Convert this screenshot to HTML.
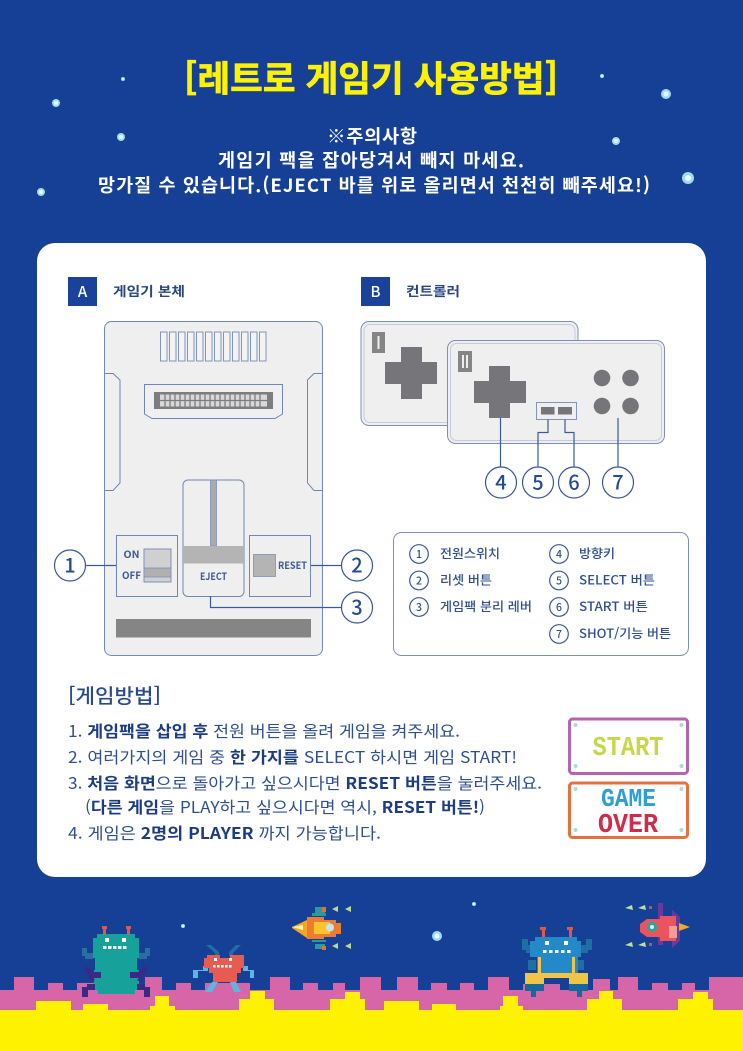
<!DOCTYPE html>
<html lang="ko"><head><meta charset="utf-8"><style>
html,body{margin:0;padding:0;background:#163f96}
svg{display:block}
text{font-family:"Noto Sans CJK KR","Liberation Sans",sans-serif}
.w{fill:#fff;font-weight:700;font-size:18.5px}
.s{stroke:#6f86b8;stroke-width:1;fill:none}
.t{fill:#2f4f90;font-size:16px}
.t tspan.b{font-weight:700;fill:#1d3d82}
.lg{fill:#2f4f90;font-size:12.5px;font-weight:500}
.c{fill:#fff;stroke:#3b5797;stroke-width:1.2}
.n{fill:#234a94;font-size:20px;font-weight:500;text-anchor:middle}
.n2{fill:#2f4f90;font-size:10.5px;font-weight:500;text-anchor:middle}
.l{stroke:#3b5a9c;stroke-width:1.2;fill:none}
.m{fill:#3d5a98;font-size:10px;font-weight:700}
.p{font-family:"Liberation Mono",monospace;font-weight:700;text-anchor:middle}
</style></head><body>
<svg width="743" height="1051" viewBox="0 0 743 1051" xmlns="http://www.w3.org/2000/svg">
<rect width="743" height="1051" fill="#163f96"/>
<!-- stars -->
<g fill="#9fdcec">
<circle cx="123" cy="79" r="2"/><circle cx="56" cy="103" r="4"/><circle cx="121" cy="137" r="4"/><circle cx="41" cy="192" r="4"/>
<circle cx="602" cy="76" r="2"/><circle cx="666" cy="94" r="5"/><circle cx="616" cy="141" r="4"/><circle cx="688" cy="178" r="6"/>
<circle cx="183" cy="926" r="2"/><circle cx="474" cy="904" r="2"/><circle cx="437" cy="936" r="5"/>
</g>
<g fill="#eefbff">
<circle cx="123" cy="79" r="1"/><circle cx="56" cy="103" r="2"/><circle cx="121" cy="137" r="2"/><circle cx="41" cy="192" r="2"/>
<circle cx="602" cy="76" r="1"/><circle cx="666" cy="94" r="2.500"/><circle cx="616" cy="141" r="2"/><circle cx="688" cy="178" r="3"/>
<circle cx="183" cy="926" r="1"/><circle cx="474" cy="904" r="1"/><circle cx="437" cy="936" r="2.500"/>
</g>
<text x="184" y="91" fill="#fff200" stroke="#fff200" stroke-width=".7" font-size="35.5" font-weight="700" textLength="374" lengthAdjust="spacing">[레트로 게임기 사용방법]</text>
<text class="w" x="327" y="143" textLength="90" lengthAdjust="spacing">※주의사항</text>
<text class="w" x="218" y="167" textLength="306" lengthAdjust="spacing">게임기 팩을 잡아당겨서 빼지 마세요.</text>
<text class="w" x="98" y="192" textLength="552" lengthAdjust="spacing">망가질 수 있습니다.(EJECT 바를 위로 올리면서 천천히 빼주세요!)</text>

<!-- card -->
<rect x="37" y="243" width="669" height="634" rx="18" fill="#fff"/>
<rect x="68" y="277" width="29" height="29" fill="#1a429b"/>
<text x="82.500" y="297" text-anchor="middle" fill="#fff" font-size="15" font-weight="500">A</text>
<text x="113" y="296" fill="#2a4685" font-size="13" font-weight="700" textLength="72" lengthAdjust="spacingAndGlyphs">게임기 본체</text>
<rect x="361" y="277" width="29" height="29" fill="#1a429b"/>
<text x="375.500" y="297" text-anchor="middle" fill="#fff" font-size="15" font-weight="500">B</text>
<text x="406" y="296" fill="#2a4685" font-size="13" font-weight="700" textLength="54" lengthAdjust="spacingAndGlyphs">컨트롤러</text>

<!-- console -->
<rect x="104.500" y="321.500" width="218" height="334" rx="7" fill="#efefef" stroke="#7188b8"/>
<g fill="#f3f3f3" stroke="#8094bf" stroke-width="1">
<rect x="160.500" y="332" width="6.500" height="29"/><rect x="169.500" y="332" width="6.500" height="29"/><rect x="178.500" y="332" width="6.500" height="29"/><rect x="187.500" y="332" width="6.500" height="29"/><rect x="196.500" y="332" width="6.500" height="29"/><rect x="205.500" y="332" width="6.500" height="29"/><rect x="214.500" y="332" width="6.500" height="29"/><rect x="223.500" y="332" width="6.500" height="29"/><rect x="232.500" y="332" width="6.500" height="29"/><rect x="241.500" y="332" width="6.500" height="29"/><rect x="250.500" y="332" width="6.500" height="29"/><rect x="259.500" y="332" width="6.500" height="29"/>
</g>
<path class="s" d="M144.500 384.500H282.500V414L275 418.500H152L144.500 414Z"/>
<rect x="154" y="392" width="119" height="17" fill="#7d7d80"/>
<rect x="160" y="394.500" width="107" height="12" fill="#d8d8d8"/>
<g stroke="#7d7d80" stroke-width="1.300">
<path d="M165 394V407M170 394V407M175 394V407M180 394V407M185 394V407M190 394V407M195 394V407M200 394V407M205 394V407M210 394V407M215 394V407M220 394V407M225 394V407M230 394V407M235 394V407M240 394V407M245 394V407M250 394V407M255 394V407M260 394V407M160 400.500H267"/>
</g>
<path class="s" d="M104 373.500H113L120 380V483L113 490.500H104"/>
<path class="s" d="M322 373.500H314L307.500 380V483L314 490.500H322"/>

<rect x="116.500" y="535.500" width="61" height="61" class="s"/>
<text class="m" x="123.500" y="558" textLength="16" lengthAdjust="spacingAndGlyphs">ON</text><text class="m" x="122" y="579" textLength="19" lengthAdjust="spacingAndGlyphs">OFF</text>
<rect x="144" y="549" width="27" height="33" fill="#d0d0d0" stroke="#7c90bb"/>
<rect x="144" y="568" width="27" height="9" fill="#b0b0b0" stroke="#7c90bb" stroke-width=".8"/>

<rect x="183" y="480" width="61" height="116.500" rx="5" class="s"/>
<rect x="210.500" y="480" width="6" height="66" fill="#aaa" stroke="#7c90bb" stroke-width=".8"/>
<rect x="183" y="546" width="61" height="17.500" fill="#b4b4b4"/>
<text class="m" x="200" y="580" textLength="27" lengthAdjust="spacingAndGlyphs">EJECT</text>

<rect x="249.500" y="535.500" width="61" height="61" class="s"/>
<rect x="253.500" y="554.500" width="22" height="22" fill="#b4b4b4" stroke="#7c90bb" stroke-width=".8"/>
<text class="m" x="278" y="569" textLength="29" lengthAdjust="spacingAndGlyphs">RESET</text>
<rect x="116" y="619" width="195" height="18.500" fill="#858585"/>

<path class="l" d="M85 565.500H116M311 565.500H342M210.500 596V607.500H342"/>
<circle class="c" cx="70" cy="565.500" r="15.500"/><text class="n" x="70" y="572.500">1</text>
<circle class="c" cx="357" cy="565.500" r="15.500"/><text class="n" x="357" y="572.500">2</text>
<circle class="c" cx="357" cy="607.500" r="15.500"/><text class="n" x="357" y="614.500">3</text>

<!-- controllers -->
<rect x="361" y="321.500" width="217" height="104" rx="8" fill="#efefef" stroke="#7c90bb"/>
<rect x="364" y="324.500" width="211" height="98" rx="6" fill="none" stroke="#c3cbde"/>
<rect x="372" y="332" width="13" height="21" fill="#858585"/>
<rect x="377.500" y="336" width="2" height="13" fill="#eee"/>
<path fill="#76767a" d="M401 347H422V362H437V384H422V399H401V384H385V362H401Z"/>
<rect x="447.500" y="340.500" width="217" height="103" rx="8" fill="#efefef" stroke="#7c90bb"/>
<rect x="450.500" y="343.500" width="211" height="97" rx="6" fill="none" stroke="#c3cbde"/>
<rect x="458" y="351" width="14" height="21" fill="#858585"/>
<rect x="462" y="355" width="2" height="13" fill="#eee"/><rect x="466" y="355" width="2" height="13" fill="#eee"/>
<path fill="#76767a" d="M489 366H510V381H526V403H510V418H489V403H474V381H489Z"/>
<rect x="536.500" y="402.500" width="40" height="17" fill="none" stroke="#8094bf"/>
<rect x="541" y="407" width="13.500" height="7.500" fill="#76767a"/><rect x="558" y="407" width="14" height="7.500" fill="#76767a"/>
<g fill="#76767a"><circle cx="602" cy="378" r="8.300"/><circle cx="630.500" cy="378" r="8.300"/><circle cx="602" cy="406" r="8.300"/><circle cx="630.500" cy="406" r="8.300"/></g>
<path class="l" d="M500.500 418V467M548 419.500V432.500H538V467M565 419.500V432.500H574V467M618 418V467"/>
<circle class="c" cx="501" cy="482.500" r="15.500"/><text class="n" x="501" y="489.500">4</text>
<circle class="c" cx="538" cy="482.500" r="15.500"/><text class="n" x="538" y="489.500">5</text>
<circle class="c" cx="574" cy="482.500" r="15.500"/><text class="n" x="574" y="489.500">6</text>
<circle class="c" cx="618" cy="482.500" r="15.500"/><text class="n" x="618" y="489.500">7</text>

<!-- legend -->
<rect x="393.500" y="532.500" width="295" height="123" rx="8" fill="#fff" stroke="#7c90bb"/>
<circle class="c" cx="419" cy="554" r="9.300"/><text class="n2" x="419" y="558">1</text>
<circle class="c" cx="419" cy="580.500" r="9.300"/><text class="n2" x="419" y="584.500">2</text>
<circle class="c" cx="419" cy="607" r="9.300"/><text class="n2" x="419" y="611">3</text>
<circle class="c" cx="559" cy="554" r="9.300"/><text class="n2" x="559" y="558">4</text>
<circle class="c" cx="559" cy="580.500" r="9.300"/><text class="n2" x="559" y="584.500">5</text>
<circle class="c" cx="559" cy="607" r="9.300"/><text class="n2" x="559" y="611">6</text>
<circle class="c" cx="559" cy="634" r="9.300"/><text class="n2" x="559" y="638">7</text>
<text class="lg" x="440" y="558" textLength="60" lengthAdjust="spacingAndGlyphs">전원스위치</text>
<text class="lg" x="440" y="584.500" textLength="52" lengthAdjust="spacingAndGlyphs">리셋 버튼</text>
<text class="lg" x="440" y="611" textLength="92" lengthAdjust="spacingAndGlyphs">게임팩 분리 레버</text>
<text class="lg" x="579" y="558" textLength="36" lengthAdjust="spacingAndGlyphs">방향키</text>
<text class="lg" x="579" y="584.500" textLength="76" lengthAdjust="spacingAndGlyphs">SELECT 버튼</text>
<text class="lg" x="579" y="611" textLength="69" lengthAdjust="spacingAndGlyphs">START 버튼</text>
<text class="lg" x="579" y="638" textLength="92" lengthAdjust="spacingAndGlyphs">SHOT/기능 버튼</text>

<!-- how to -->
<text x="68" y="703" fill="#2a4a8c" font-size="20" font-weight="500" textLength="93" lengthAdjust="spacingAndGlyphs">[게임방법]</text>
<text class="t" x="68" y="737" textLength="392" lengthAdjust="spacingAndGlyphs">1. <tspan class="b">게임팩을 삽입 후</tspan> 전원 버튼을 올려 게임을 켜주세요.</text>
<text class="t" x="68" y="763" textLength="449" lengthAdjust="spacingAndGlyphs">2. 여러가지의 게임 중 <tspan class="b">한 가지를</tspan> SELECT 하시면 게임 START!</text>
<text class="t" x="68" y="789" textLength="474" lengthAdjust="spacingAndGlyphs">3. <tspan class="b">처음 화면</tspan>으로 돌아가고 싶으시다면 <tspan class="b">RESET 버튼</tspan>을 눌러주세요.</text>
<text class="t" x="85" y="813" textLength="400" lengthAdjust="spacingAndGlyphs">(<tspan class="b">다른 게임</tspan>을 PLAY하고 싶으시다면 역시, <tspan class="b">RESET 버튼!</tspan>)</text>
<text class="t" x="68" y="839" textLength="313" lengthAdjust="spacingAndGlyphs">4. 게임은 <tspan class="b">2명의  PLAYER</tspan> 까지 가능합니다.</text>

<!-- game boxes -->
<rect x="569.500" y="719" width="118" height="54.500" rx="3" fill="#fff" stroke="#b565ae" stroke-width="3"/>
<text class="p" x="628" y="755" fill="#c7d74a" font-size="27" textLength="71" lengthAdjust="spacingAndGlyphs">START</text>
<rect x="569.500" y="783" width="118" height="54.500" rx="3" fill="#fff" stroke="#e2723f" stroke-width="3"/>
<text class="p" x="628.500" y="806" fill="#2f9ed6" font-size="26" textLength="55" lengthAdjust="spacingAndGlyphs">GAME</text>
<text class="p" x="628" y="832" fill="#cf2b4a" font-size="27" textLength="60" lengthAdjust="spacingAndGlyphs">OVER</text>
<g fill="#a5dcdc"><circle cx="575.500" cy="725" r="2"/><circle cx="681.500" cy="725" r="2"/><circle cx="575.500" cy="766" r="2"/><circle cx="681.500" cy="766" r="2"/><circle cx="575.500" cy="789" r="2"/><circle cx="681.500" cy="789" r="2"/><circle cx="575.500" cy="830" r="2"/><circle cx="681.500" cy="830" r="2"/></g>

<!-- terrain pink -->
<path fill="#d766a9" d="M0 990H14V977H34V990H48V983H63V990H77V983H95V990H145V977H162V990H176V983H191V990H205V983H250V990H270V977H290V990H303V983H318V990H333V983H345V990H360V977H381V990H397V977H418V990H431V983H447V990H460V983H474V990H488V977H509V990H523V984H560V990H593V979H610V990H618V977H638V990H652V983H668V990H682V983H695V990H709V977H743V1011H0Z"/>
<!-- terrain yellow -->
<path fill="#fff200" d="M0 1010H36V1001H71V1010H83V1004H108V1010H150V1006H155V996H169V1006H175V1010H239V999H250V991H265V999H274V1010H330V999H345V992H360V999H365V1010H384V1001H419V1010H432V1004H456V1010H500V1006H503V996H518V1006H523V1010H587V999H599V991H613V999H622V1010H678V999H693V992H708V999H713V1010H743V1051H0Z"/>

<!-- teal robot -->
<g fill="#2a6fa3"><rect x="82" y="948" width="5" height="8"/><rect x="85" y="953" width="8" height="6"/><rect x="145" y="948" width="5" height="8"/><rect x="139" y="953" width="8" height="6"/></g>
<path fill="#17a19b" d="M97 934H135V938H139V958H137V970H139V990H135V994H98V990H94V970H95V958H93V938H97Z"/>
<g fill="#3a2a86"><path d="M84 967H88L94 972H101V978H93L95 980L91 982Z"/><path d="M148 967H144L138 972H130V978H139L137 980L141 982Z"/><path d="M82 987H87V984H95V990H88V997H82Z"/><path d="M150 987H145V984H137V990H144V997H150Z"/></g>
<g fill="#e2574c"><rect x="102" y="926" width="5" height="3"/><rect x="103" y="929" width="3" height="6"/><rect x="126" y="926" width="5" height="3"/><rect x="127" y="929" width="3" height="6"/></g>
<g fill="#fff"><rect x="105" y="938" width="4" height="4"/><rect x="122" y="938" width="4" height="4"/><rect x="103" y="946" width="3.500" height="3"/><rect x="108" y="946" width="3.500" height="3"/><rect x="113" y="946" width="3.500" height="3"/><rect x="118" y="946" width="3.500" height="3"/><rect x="123" y="946" width="3.500" height="3"/></g>

<!-- red robot -->
<g fill="#1f6fa5"><path d="M206 945H211L219 952V956H215V953Z"/><path d="M241 945H236L229 952V956H233V953Z"/></g>
<g fill="#5cb6e0"><path d="M193 978V970H203V966H208V971H198V978Z"/><path d="M254 978V970H248V966H243V971H250V978Z"/><path d="M212 982H218L212 992H205Z"/><path d="M230 982H236L241 992H234Z"/></g>
<path fill="#e65c50" d="M207 955H220V958H230V955H244V968H241V973H237V982H213V973H209V968H204V958H207Z"/>
<g fill="#fff"><rect x="214" y="958" width="3" height="3"/><rect x="229" y="958" width="3" height="3"/><rect x="213" y="965" width="2.500" height="2.500"/><rect x="217" y="965" width="2.500" height="2.500"/><rect x="221" y="965" width="2.500" height="2.500"/><rect x="225" y="965" width="2.500" height="2.500"/><rect x="229" y="965" width="2.500" height="2.500"/></g>

<!-- orange ship -->
<g fill="#2a9aa0"><rect x="315" y="907" width="10" height="6"/><rect x="312" y="913" width="14" height="3"/><rect x="312" y="940" width="14" height="2"/><rect x="315" y="944" width="10" height="5"/></g>
<rect x="322" y="907" width="4" height="5" fill="#e2703a"/><rect x="322" y="946" width="4" height="4" fill="#e2703a"/>
<path fill="#f5a623" d="M292 927L307 920V938L292 928Z"/><path fill="#fff2b0" d="M292 927L303 925V930Z"/>
<path fill="#ed7d2d" d="M307 917H324V920H336V923H341V934H336V937H324V939H307Z"/>
<rect x="314" y="922" width="16" height="12" fill="#f9c22e"/>
<circle cx="330" cy="927.500" r="4" fill="#bfe8f0"/>
<g fill="#bcd98a"><path d="M332 909L338 906V912Z"/><path d="M345 909L351 906V912Z"/><path d="M332 946L338 943V949Z"/><path d="M345 946L351 943V949Z"/></g>

<!-- blue robot -->
<g fill="#1f6fa5"><rect x="522" y="939" width="6" height="11"/><rect x="526" y="945" width="10" height="8"/><rect x="586" y="939" width="6" height="11"/><rect x="576" y="945" width="12" height="8"/><rect x="528" y="960" width="8" height="10"/><rect x="576" y="960" width="8" height="10"/></g>
<g fill="#e2574c"><rect x="540" y="927" width="6" height="3"/><rect x="542" y="930" width="3" height="7"/><rect x="567" y="927" width="6" height="3"/><rect x="569" y="930" width="3" height="7"/></g>
<path fill="#2389c8" d="M535 937H577V941H581V957H578V977H537V957H530V941H535Z"/>
<g fill="#fff"><rect x="545" y="941" width="4" height="4"/><rect x="564" y="941" width="4" height="4"/><rect x="543" y="950" width="3.500" height="3"/><rect x="549" y="950" width="3.500" height="3"/><rect x="555" y="950" width="3.500" height="3"/><rect x="561" y="950" width="3.500" height="3"/><rect x="567" y="950" width="3.500" height="3"/></g>
<g fill="#f0c445"><rect x="538" y="957" width="3" height="17"/><rect x="572" y="957" width="3" height="17"/><rect x="525" y="973" width="63" height="5"/><rect x="525" y="977" width="19" height="7"/><rect x="569" y="977" width="19" height="7"/></g>
<g fill="#136a9c"><rect x="525" y="984" width="19" height="7"/><rect x="569" y="984" width="19" height="7"/><rect x="531" y="991" width="5" height="6"/><rect x="577" y="991" width="5" height="6"/></g>

<!-- red ship -->
<g fill="#6a3a9a"><rect x="658" y="903" width="5" height="42"/><path d="M672 910L680 917V941L672 948Z"/></g>
<path fill="#e9545f" d="M640 924L647 919H660V916H676V941H660V937H647L640 932Z"/>
<rect x="669" y="926" width="8" height="12" fill="#f59c97"/>
<circle cx="652" cy="927" r="5" fill="#23a99a"/><circle cx="652" cy="927" r="2" fill="#d8f3ee"/>
<path fill="#f5a623" d="M679 923L690 927L679 931Z"/>
<g fill="#bcdf9a"><path d="M625 908L632 905L633 910Z"/><path d="M638 908L645 905L646 910Z"/><path d="M625 945L632 942L633 947Z"/><path d="M638 945L645 942L646 947Z"/></g>
<rect x="649" y="906" width="3" height="3" fill="#c24d7a"/><rect x="649" y="943" width="3" height="3" fill="#c24d7a"/>
</svg>
</body></html>
